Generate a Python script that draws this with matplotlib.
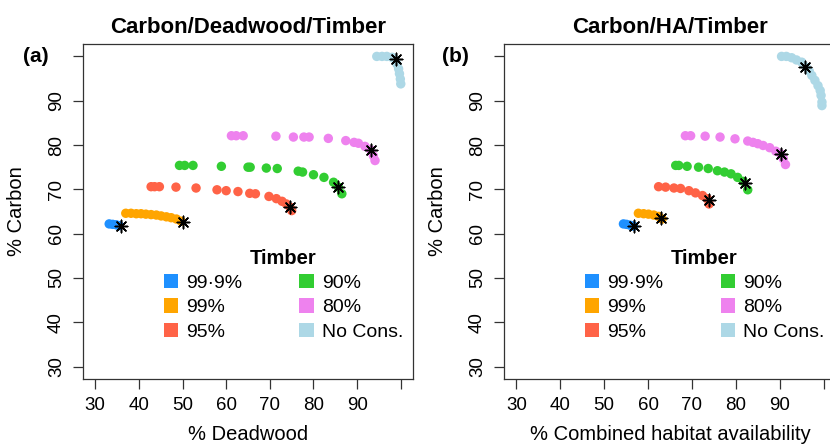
import numpy as np
import matplotlib.pyplot as plt
from matplotlib.patches import Patch

plt.rcParams['font.family'] = ['Liberation Sans', 'DejaVu Sans']

# ---------------------------------------------------------------------------
# data (x = % deadwood / % habitat, y = % carbon)
# ---------------------------------------------------------------------------
groups = ['99·9%', '99%', '95%', '90%', '80%', 'No Cons.']
colors = ['#1E90FF', '#FFA500', '#FF6347', '#32CD32', '#EE82EE', '#ADD8E6']

# panel (a): Carbon / Deadwood / Timber
dw_x = [
    [33.2, 34.0, 34.8, 35.5],
    [37.0, 38.2, 39.4, 40.5, 41.6, 42.8, 44.0, 45.1, 46.3, 47.4, 48.6, 49.7],
    [42.8, 43.6, 44.7, 48.5, 53.1, 57.9, 60.0, 62.7, 65.4, 66.7, 69.8, 71.5,
     72.8, 73.8, 74.6, 75.0],
    [49.3, 50.5, 52.4, 58.9, 65.0, 65.5, 69.2, 71.7, 76.5, 77.5, 80.0, 82.4,
     84.6, 85.7, 86.5],
    [61.2, 62.3, 63.9, 71.4, 75.4, 77.8, 79.0, 83.4, 87.4, 89.3, 90.3, 91.8,
     93.1, 93.7, 94.1],
    [94.5, 95.7, 96.8, 98.0, 98.7, 99.1, 99.5, 99.7, 99.9, 100.0],
]
dw_y = [
    [62.2, 62.1, 62.0, 61.8],
    [64.6, 64.6, 64.5, 64.5, 64.4, 64.3, 64.2, 64.0, 63.8, 63.6, 63.3, 62.8],
    [70.6, 70.6, 70.6, 70.5, 70.3, 69.9, 69.7, 69.5, 69.1, 69.0, 68.4, 67.9,
     67.3, 66.7, 66.0, 65.2],
    [75.4, 75.4, 75.4, 75.2, 75.0, 75.0, 74.8, 74.7, 74.1, 73.9, 73.3, 72.7,
     71.6, 70.5, 69.0],
    [82.1, 82.1, 82.1, 82.0, 81.8, 81.8, 81.8, 81.5, 81.0, 80.6, 80.4, 79.7,
     78.9, 77.6, 76.5],
    [100.0, 100.0, 100.0, 99.8, 99.3, 98.3, 97.2, 96.1, 94.9, 93.8],
]
dw_star_x = [35.9, 50.0, 74.6, 85.7, 93.1, 99.0]
dw_star_y = [61.8, 62.6, 66.0, 70.5, 78.9, 99.4]

# panel (b): Carbon / HA / Timber
ha_x = [
    [54.4, 55.1, 55.9, 56.7],
    [57.8, 59.0, 60.1, 61.3, 62.4, 63.2],
    [62.4, 64.0, 65.9, 67.4, 69.3, 70.8, 72.4, 73.5, 73.9],
    [66.3, 67.0, 68.9, 71.5, 73.7, 75.8, 77.4, 78.9, 80.4, 81.7, 82.7],
    [68.5, 69.7, 73.0, 76.4, 79.8, 82.7, 83.9, 85.0, 86.2, 87.7, 89.1, 90.2,
     90.8, 91.3],
    [90.4, 91.5, 92.7, 93.8, 95.0, 96.0, 96.7, 97.3, 98.0, 98.7, 99.2, 99.4,
     99.6, 99.6],
]
ha_y = [
    [62.2, 62.1, 61.9, 61.7],
    [64.6, 64.5, 64.4, 64.2, 63.9, 63.3],
    [70.6, 70.5, 70.3, 70.2, 69.7, 69.2, 68.6, 67.9, 66.7],
    [75.4, 75.4, 75.2, 75.0, 74.7, 74.2, 73.9, 73.5, 72.7, 71.8, 69.9],
    [82.1, 82.1, 82.0, 81.8, 81.4, 80.9, 80.6, 80.3, 79.9, 79.4, 78.6, 78.0,
     76.9, 75.6],
    [100.0, 100.0, 99.7, 99.2, 98.7, 97.6, 96.7, 95.7, 94.6, 93.4, 92.3, 91.2,
     89.7, 88.9],
]
ha_star_x = [56.7, 63.0, 73.8, 82.1, 90.2, 95.8]
ha_star_y = [61.7, 63.6, 67.6, 71.4, 78.0, 97.5]

ticks = [30, 40, 50, 60, 70, 80, 90, 100]
tick_labels = ['30', '40', '50', '60', '70', '80', '90', '']


def draw_panel(ax, xs, ys, sx, sy, title, xlabel, leg_x):
    for x, y, c in zip(xs, ys, colors):
        ax.scatter(x, y, s=46, color=c, edgecolors='none', zorder=2)
    ax.scatter(sx, sy, s=80, marker=(8, 2, 0), color='black',
               linewidths=1.1, zorder=3)
    ax.set_xlim(27.2, 102.8)
    ax.set_ylim(27.2, 102.8)
    ax.set_xticks(ticks)
    ax.set_xticklabels(tick_labels)
    ax.set_yticks(ticks)
    ax.set_yticklabels(tick_labels, rotation=90, va='center')
    ax.tick_params(direction='out', length=7, width=0.9, color='#333333',
                   labelsize=13.5, pad=6)
    for sp in ax.spines.values():
        sp.set_color('#333333')
        sp.set_linewidth(0.9)
    ax.set_title(title, fontsize=16, fontweight='bold', pad=8)
    ax.set_xlabel(xlabel, fontsize=14.5, labelpad=8)
    ax.set_ylabel('% Carbon', fontsize=14.5, labelpad=16)
    handles = [Patch(facecolor=c, edgecolor='none') for c in colors]
    ax.legend(handles, groups, ncol=2, title='Timber', frameon=False,
              loc='upper left', bbox_to_anchor=(leg_x, 0.43),
              fontsize=14, title_fontproperties={'weight': 'bold', 'size': 14.5},
              handlelength=0.75, handleheight=0.75, handletextpad=0.4,
              columnspacing=2.95, labelspacing=0.33, borderpad=0.2)


fig = plt.figure(figsize=(8.3, 4.47), dpi=100)
ax1 = fig.add_axes([83 / 830, 68 / 447, 330 / 830, 335 / 447])
ax2 = fig.add_axes([504 / 830, 68 / 447, 332 / 830, 335 / 447])

draw_panel(ax1, dw_x, dw_y, dw_star_x, dw_star_y,
           'Carbon/Deadwood/Timber', '% Deadwood', 0.203)
draw_panel(ax2, ha_x, ha_y, ha_star_x, ha_star_y,
           'Carbon/HA/Timber', '% Combined habitat availability', 0.202)

fig.text(36 / 830, 1 - 57 / 447, '(a)', fontsize=15, fontweight='bold',
         ha='center', va='center')
fig.text(455 / 830, 1 - 57 / 447, '(b)', fontsize=15, fontweight='bold',
         ha='center', va='center')

fig.savefig('out.png', dpi=100)
